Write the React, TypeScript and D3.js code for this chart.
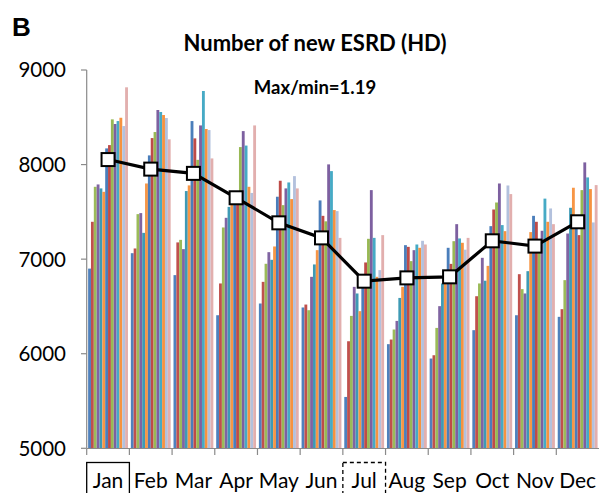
import * as d3 from "d3";

// Months on the x axis
const months = ["Jan", "Feb", "Mar", "Apr", "May", "Jun", "Jul", "Aug", "Sep", "Oct", "Nov", "Dec"];

// 14 yearly series per month (left to right within each month)
const janValues = [6900, 7395, 7765, 7790, 7748, 7712, 8171, 8206, 8478, 8429, 8460, 8495, 8407, 8817];
const febValues = [7063, 7113, 7476, 7487, 7278, 7800, 8097, 8280, 8344, 8577, 8556, 8524, 8492, 8267];
const marValues = [6831, 7177, 7204, 7106, 7720, 7780, 8460, 8277, 8050, 8414, 8778, 8376, 8365, 8065];
const aprValues = [6407, 6743, 7335, 7437, 7553, 7590, 7680, 7720, 8185, 8354, 8201, 7765, 7700, 8414];
const mayValues = [6531, 6760, 6951, 7074, 6993, 7134, 7660, 7829, 7571, 7748, 7811, 7635, 7878, 7748];
const junValues = [6489, 6520, 6460, 6813, 6944, 7095, 7621, 7458, 7400, 8002, 7931, 7519, 7508, 7225];
const julValues = [5543, 6132, 6400, 6707, 6637, 6450, 6700, 6965, 7215, 7730, 7225, 6813, 6884, 7254];
const augValues = [6101, 6150, 6256, 6347, 6590, 6707, 7148, 7130, 6979, 7095, 7155, 7120, 7194, 7155];
const sepValues = [5949, 5984, 6273, 6503, 6743, 6800, 7120, 6950, 7190, 7370, 7219, 7173, 7100, 7225];
const octValues = [6249, 6608, 6743, 7014, 6772, 6929, 7349, 7525, 7599, 7800, 7360, 7296, 7779, 7688];
const novValues = [6407, 6841, 6683, 6637, 6873, 7286, 7458, 7395, 7100, 7300, 7640, 7395, 7536, 7370];
const decValues = [6390, 6471, 6778, 7271, 7543, 7755, 7402, 7254, 7730, 8023, 7864, 7741, 7388, 7783];

const monthValues = [janValues, febValues, marValues, aprValues, mayValues, junValues,
  julValues, augValues, sepValues, octValues, novValues, decValues];

// monthly average line (white squares)
const averageValues = [8053, 7952, 7907, 7649, 7384, 7225, 6767, 6802, 6813, 7194, 7138, 7395];

const yTicks = [5000, 6000, 7000, 8000, 9000];

const seriesColors = [
  "#4F81BD", "#C0504D", "#9BBB59", "#8064A2", "#3E9AB5", "#F79646",
  "#4A7EBB", "#BE4B48", "#98B954", "#7D60A0", "#46AAC5", "#F69240",
  "#B3C1DD", "#E2AFAE"
];

const width = 600;
const height = 493;

export default function App() {
  const series = d3.range(janValues.length);

  const x0 = d3.scaleBand()
    .domain(months)
    .range([86.7, 599])
    .paddingInner(1 / 15)
    .paddingOuter(1 / 30);

  const x1 = d3.scaleBand()
    .domain(series.map(String))
    .range([0, x0.bandwidth()]);

  const y = d3.scaleLinear()
    .domain([5000, 9000])
    .range([448.3, 70]);

  const step = x0.step();
  const bandStart = (m) => x0(m) - step / 30;
  const center = (m) => x0(m) + x0.bandwidth() / 2;

  const line = d3.line()
    .x((d, i) => center(months[i]))
    .y(d => y(d));

  const axisColor = "#8a8a8a";
  const labelFont = "Lato, 'Liberation Sans', sans-serif";

  return (
    <svg width={width} height={height}
      style={{ position: "absolute", left: 0, top: 0, background: "#fff" }}>
      <text x={12} y={36} fontFamily="'Liberation Sans', Arial, sans-serif"
        fontWeight="bold" fontSize={26}>B</text>
      <text x={315} y={51} textAnchor="middle" fontFamily={labelFont}
        fontWeight="bold" fontSize={22}>Number of new ESRD (HD)</text>
      <text x={315} y={94} textAnchor="middle" fontFamily={labelFont}
        fontWeight="bold" fontSize={18.5}>Max/min=1.19</text>

      {/* y axis */}
      <line x1={86.7} x2={86.7} y1={y(9000)} y2={y(5000)} stroke={axisColor} strokeWidth={1.2} />
      {yTicks.map(t => (
        <g key={t}>
          <line x1={81} x2={86.7} y1={y(t)} y2={y(t)} stroke={axisColor} strokeWidth={1.2} />
          <text x={66} y={y(t)} dy="0.36em" textAnchor="end" fontFamily={labelFont}
            fontSize={20.5}>{t}</text>
        </g>
      ))}

      {/* bars */}
      {months.map((m, mi) => (
        <g key={m} transform={`translate(${x0(m)},0)`}>
          {monthValues[mi].map((v, si) => (
            <rect key={si}
              x={x1(String(si))}
              width={x1.bandwidth()}
              y={y(v)}
              height={y(5000) - y(v)}
              fill={seriesColors[si]} />
          ))}
        </g>
      ))}

      {/* x axis */}
      <line x1={86.7} x2={599} y1={448.5} y2={448.5} stroke={axisColor} strokeWidth={1.2} />
      {months.map(m => (
        <line key={m} x1={bandStart(m)} x2={bandStart(m)} y1={448.5} y2={455}
          stroke={axisColor} strokeWidth={1.2} />
      ))}
      {months.map(m => (
        <text key={m} x={center(m)} y={487.5} textAnchor="middle" fontFamily={labelFont}
          fontSize={21}>{m}</text>
      ))}
      <rect x={bandStart("Jan")} y={462.5} width={step} height={40} fill="none"
        stroke="#000" strokeWidth={1.3} />
      <rect x={bandStart("Jul")} y={462.5} width={step} height={40} fill="none"
        stroke="#000" strokeWidth={1.3} strokeDasharray="4,3" />

      {/* average line */}
      <path d={line(averageValues)} fill="none" stroke="#000" strokeWidth={3.2} />
      {averageValues.map((v, i) => (
        <rect key={i} x={center(months[i]) - 6.5} y={y(v) - 6.5} width={13} height={13}
          fill="#fff" stroke="#000" strokeWidth={2} />
      ))}
    </svg>
  );
}
